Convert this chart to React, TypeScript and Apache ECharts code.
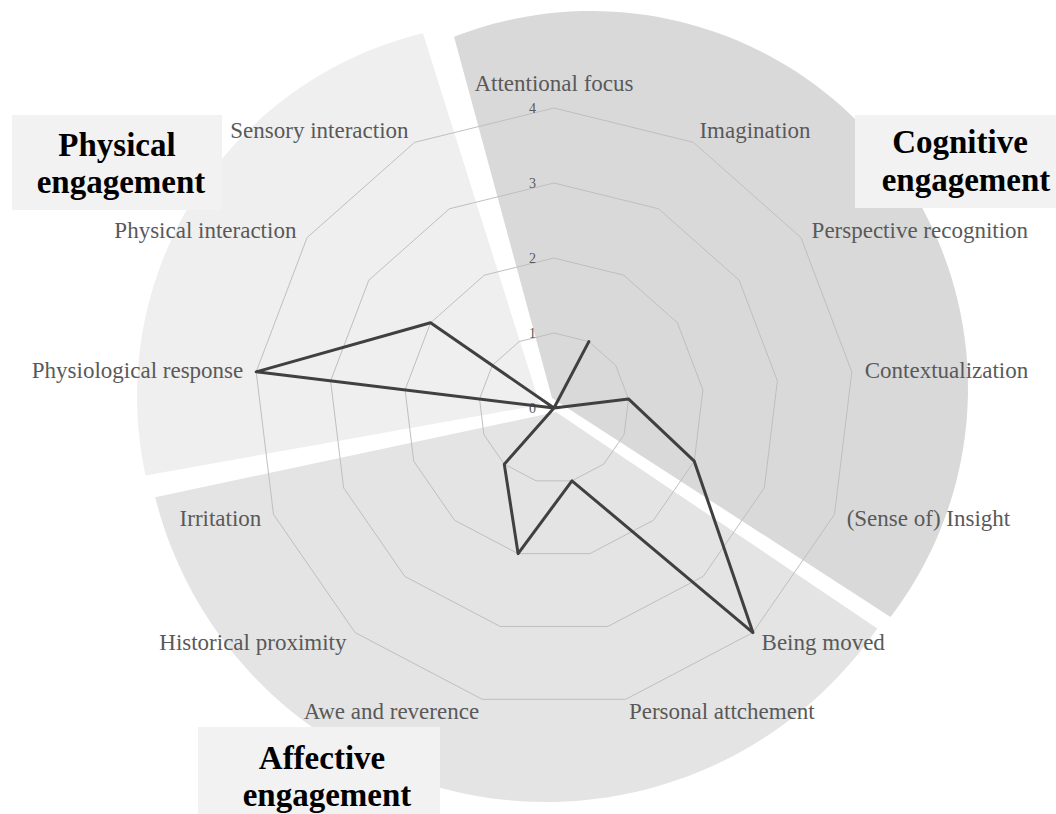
import React, { useEffect, useRef } from "react";
import * as echarts from "echarts";

// Indicators in ECharts order (counter-clockwise from the top)
const indicatorNames = [
  "Attentional focus",
  "Sensory interaction",
  "Physical interaction",
  "Physiological response",
  "Irritation",
  "Historical proximity",
  "Awe and reverence",
  "Personal attchement",
  "Being moved",
  "(Sense of) Insight",
  "Contextualization",
  "Perspective recognition",
  "Imagination",
];
const values = [0, 0, 2, 4, 0, 1, 2, 1, 4, 2, 1, 0, 1];
const axisMax = 4;
const tickLabels = ["0", "1", "2", "3", "4"];

const groupTitles = [
  { lines: ["Physical", "engagement"] },
  { lines: ["Cognitive", "engagement"] },
  { lines: ["Affective", "engagement"] },
];

// background wedge geometry (apex, arc centre, radius, angles in degrees)
const wedges = [
  { apex: [552, 398], c: [591, 388], r: 377, a1: -37.4, a2: 111.3, color: "#d9d9d9" },
  { apex: [540, 405], c: [510, 396], r: 373, a1: 103.5, a2: 192.3, color: "#efefef" },
  { apex: [556, 412], c: [546, 399], r: 403, a1: 194.1, a2: 325.3, color: "#e4e4e4" },
];

function wedgePoints(w: any) {
  const pts: number[][] = [[w.apex[0], w.apex[1]]];
  const n = 90;
  for (let i = 0; i <= n; i++) {
    const a = ((w.a1 + ((w.a2 - w.a1) * i) / n) * Math.PI) / 180;
    pts.push([w.c[0] + w.r * Math.cos(a), w.c[1] - w.r * Math.sin(a)]);
  }
  return pts;
}

const boxes = [
  { x: 12, y: 115, w: 210, h: 95, t1: [117, 145], t2: [121, 182] },
  { x: 855, y: 115, w: 201, h: 93, t1: [960, 142], t2: [966, 180] },
  { x: 198, y: 727, w: 242, h: 87, t1: [322, 758], t2: [327, 795] },
];

export default function App() {
  const ref = useRef<HTMLDivElement>(null);
  useEffect(() => {
    if (!ref.current) return;
    const chart = echarts.init(ref.current, undefined, { renderer: "svg" });
    const graphics: any[] = [];
    wedges.forEach((w) => {
      graphics.push({
        type: "polygon",
        z: -10,
        silent: true,
        shape: { points: wedgePoints(w) },
        style: { fill: w.color },
      });
    });
    boxes.forEach((b, i) => {
      graphics.push({
        type: "rect",
        z: 10,
        shape: { x: b.x, y: b.y, width: b.w, height: b.h },
        style: { fill: "#f2f2f2" },
      });
      [b.t1, b.t2].forEach((p, j) => {
        graphics.push({
          type: "text",
          z: 11,
          x: p[0],
          y: p[1],
          style: {
            text: groupTitles[i].lines[j],
            fill: "#000",
            font: "bold 33px 'Liberation Serif'",
            textAlign: "center",
            textVerticalAlign: "middle",
          },
        });
      });
    });

    chart.setOption({
      animation: false,
      backgroundColor: "#ffffff",
      graphic: graphics,
      radar: {
        center: [554, 408],
        radius: 300,
        startAngle: 90,
        splitNumber: 4,
        shape: "polygon",
        nameGap: 13,
        axisName: {
          color: "#595959",
          fontFamily: "Liberation Serif",
          fontSize: 23,
        },
        indicator: indicatorNames.map((name, i) => {
          const ind: any = { name, min: 0, max: axisMax };
          if (i === 0) {
            ind.axisLabel = {
              show: true,
              color: "#595959",
              fontFamily: "Liberation Serif",
              fontSize: 14,
              margin: 18,
              formatter: (v: number) => tickLabels[Math.round(v)],
            };
          }
          return ind;
        }),
        splitLine: { lineStyle: { color: "#bfbfbf", width: 1 } },
        splitArea: { show: false },
        axisLine: { show: false },
        axisTick: { show: false },
        axisLabel: { show: false },
      },
      series: [
        {
          type: "radar",
          symbol: "none",
          lineStyle: { color: "#404040", width: 3 },
          data: [{ value: values, name: "Engagement" }],
        },
      ],
    });
    return () => chart.dispose();
  }, []);
  return (
    <div
      ref={ref}
      style={{ position: "fixed", left: 0, top: 0, width: 1056, height: 814 }}
    />
  );
}
